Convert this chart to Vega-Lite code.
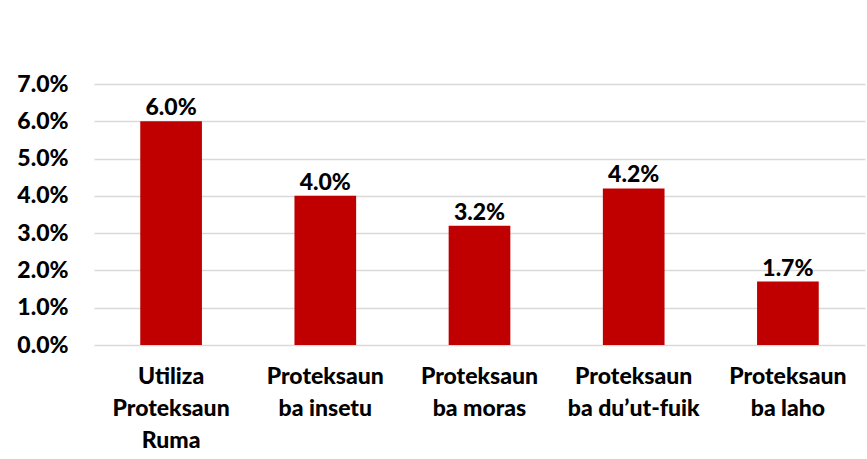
{
  "$schema": "https://vega.github.io/schema/vega-lite/v6.json",
  "autosize": {"type": "none"},
  "width": 771,
  "height": 261,
  "padding": {"left": 94, "top": 84, "right": 2, "bottom": 114},
  "background": "white",
  "config": {
    "view": {"stroke": null},
    "font": "Lato"
  },
  "data": {
    "values": [
      {"category": "Utiliza\nProteksaun\nRuma", "value": 0.060},
      {"category": "Proteksaun\nba insetu", "value": 0.040},
      {"category": "Proteksaun\nba moras", "value": 0.032},
      {"category": "Proteksaun\nba du’ut-fuik", "value": 0.042},
      {"category": "Proteksaun\nba laho", "value": 0.017}
    ]
  },
  "encoding": {
    "x": {
      "field": "category",
      "type": "nominal",
      "sort": null,
      "scale": {"paddingInner": 0.6, "paddingOuter": 0.3},
      "axis": {
        "title": null,
        "labelAngle": 0,
        "labelExpr": "split(datum.label, '\\n')",
        "labelFont": "Lato",
        "labelFontWeight": 900,
        "labelFontSize": 23,
        "labelColor": "#000000",
        "labelLineHeight": 32,
        "labelPadding": 20,
        "labelLimit": 200,
        "labelOverlap": false,
        "domain": false,
        "ticks": false,
        "grid": false
      }
    },
    "y": {
      "field": "value",
      "type": "quantitative",
      "scale": {"domain": [0, 0.07]},
      "axis": {
        "title": null,
        "format": ".1%",
        "values": [0, 0.01, 0.02, 0.03, 0.04, 0.05, 0.06, 0.07],
        "labelOverlap": false,
        "labelFont": "Lato",
        "labelFontWeight": 900,
        "labelFontSize": 23,
        "labelColor": "#000000",
        "labelPadding": 26,
        "domain": false,
        "ticks": false,
        "grid": true,
        "gridColor": "#D9D9D9",
        "gridWidth": 1.3
      }
    }
  },
  "layer": [
    {"mark": {"type": "bar", "color": "#C00000"}},
    {
      "mark": {"type": "text", "baseline": "bottom", "dy": -1, "font": "Lato", "fontWeight": 900, "fontSize": 23, "color": "#000000"},
      "encoding": {"text": {"field": "value", "type": "quantitative", "format": ".1%"}}
    }
  ]
}
